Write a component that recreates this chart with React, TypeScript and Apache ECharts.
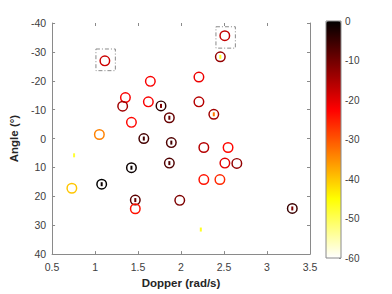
import React, { useEffect, useRef } from 'react';
import * as echarts from 'echarts';

// Hollow circles: Doppler (rad/s), Angle (°), power (dB)
const circleDoppler = [1.114, 1.353, 1.321, 1.423, 1.05, 2.509, 2.457, 2.208, 1.643, 1.62, 1.767, 2.208, 1.864, 2.381, 1.567, 1.887, 2.265, 2.547, 1.864, 2.51, 2.649, 2.265, 2.452, 1.985, 3.294, 0.73, 1.077, 1.423, 1.468, 1.468];
const circleAngle = [-26.9, -14.2, -11.2, -5.6, -1.4, -35.6, -28.3, -21.3, -19.8, -12.7, -11.3, -12.7, -7.2, -8.4, 0.0, 1.4, 3.1, 3.1, 8.5, 8.5, 8.6, 14.2, 14.2, 21.4, 24.2, 17.2, 15.8, 10.1, 21.3, 24.3];
const circlePower = [-18, -22, -14, -23, -34, -17, -13, -21, -22, -22, -4, -16, -9, -14, -6, -7, -16, -23, -7, -20, -13, -24, -26, -11, -5, -40, 0, -1, -8, -24];

// Small filled markers
const markerDoppler = [2.457, 1.767, 1.864, 2.381, 1.567, 1.887, 1.864, 3.294, 1.077, 1.423, 1.468, 0.756, 2.23];
const markerAngle = [-28.3, -11.3, -7.2, -8.4, 0.0, 1.4, 8.5, 24.2, 15.8, 10.1, 21.3, 5.8, 31.5];
const markerPower = [-47, -11, -9, -33, -6, -6, -7, -11, -1, -1, -9, -48, -47];

// Dash-dot highlight boxes [x0, y0, x1, y1]
const boxes = [
  [1.01, -31.0, 1.236, -23.5],
  [2.406, -38.7, 2.632, -31.3],
];

const xRange = [0.5, 3.5];
const yRange = [-40, 40];
const powerRange = [-60, 0];
const hotColors = ['#ffffff', '#ffff80', '#ffff00', '#ffaa00', '#ff5500', '#ff0000', '#aa0000', '#550000', '#000000'];

const FONT = 'Liberation Sans, Arial, Helvetica, sans-serif';
const RING = 'path://M0,-6A6,6,0,1,1,0,6A6,6,0,1,1,0,-6ZM0,-4.4A4.4,4.4,0,1,0,0,4.4A4.4,4.4,0,1,0,0,-4.4Z';

export default function App() {
  const ref = useRef<HTMLDivElement>(null);
  useEffect(() => {
    if (!ref.current) return;
    const chart = echarts.init(ref.current, null, { renderer: 'svg' });
    const circles = circleDoppler.map((x, i) => [x, circleAngle[i], circlePower[i]]);
    const markers = markerDoppler.map((x, i) => [x, markerAngle[i], markerPower[i]]);
    const axisColor = '#8a8a8a';
    const labelColor = '#404040';
    chart.setOption({
      animation: false,
      backgroundColor: '#ffffff',
      textStyle: { fontFamily: FONT },
      grid: [
        { left: 45, top: 23, width: 265, height: 234 },
        { left: 326, top: 21, width: 15, height: 237, show: true, borderColor: '#8a8a8a', borderWidth: 1, backgroundColor: 'transparent', z: 10 },
      ],
      xAxis: [
        {
          gridIndex: 0, type: 'value', min: xRange[0], max: xRange[1], interval: 0.5,
          name: 'Dopper (rad/s)', nameLocation: 'middle', nameGap: 22,
          nameTextStyle: { fontWeight: 'bold', fontSize: 11.5, color: '#262626', fontFamily: FONT },
          axisLine: { show: true, onZero: false, lineStyle: { color: axisColor, width: 1 } },
          axisTick: { show: true, inside: true, length: 3, lineStyle: { color: axisColor } },
          axisLabel: { color: labelColor, fontSize: 10.5, margin: 7, fontFamily: FONT },
          splitLine: { show: false },
        },
        {
          gridIndex: 0, type: 'value', position: 'top', min: xRange[0], max: xRange[1], interval: 0.5,
          axisLine: { show: false, onZero: false },
          axisTick: { show: true, inside: true, length: 3, lineStyle: { color: axisColor } },
          axisLabel: { show: false },
          splitLine: { show: false },
        },
        { gridIndex: 1, type: 'value', show: false, min: 0, max: 1 },
      ],
      yAxis: [
        {
          gridIndex: 0, type: 'value', inverse: true, min: yRange[0], max: yRange[1], interval: 10,
          name: 'Angle (°)', nameLocation: 'middle', nameGap: 26, nameRotate: 90,
          nameTextStyle: { fontWeight: 'bold', fontSize: 11.5, color: '#262626', fontFamily: FONT },
          axisLine: { show: true, onZero: false, lineStyle: { color: axisColor, width: 1 } },
          axisTick: { show: true, inside: true, length: 3, lineStyle: { color: axisColor } },
          axisLabel: { color: labelColor, fontSize: 10.5, margin: 6, fontFamily: FONT },
          splitLine: { show: false },
        },
        {
          gridIndex: 0, type: 'value', position: 'right', inverse: true, min: yRange[0], max: yRange[1], interval: 10,
          axisLine: { show: true, onZero: false, lineStyle: { color: axisColor, width: 1 } },
          axisTick: { show: true, inside: true, length: 3, lineStyle: { color: axisColor } },
          axisLabel: { show: false },
          splitLine: { show: false },
        },
        {
          gridIndex: 1, type: 'value', position: 'right', min: powerRange[0], max: powerRange[1], interval: 10,
          axisLine: { show: false, onZero: false },
          axisTick: { show: true, inside: true, length: 2, lineStyle: { color: axisColor } },
          axisLabel: { color: labelColor, fontSize: 10, margin: 4, fontFamily: FONT },
          splitLine: { show: false },
        },
      ],
      visualMap: {
        type: 'continuous', min: powerRange[0], max: powerRange[1], dimension: 2, seriesIndex: [0, 1],
        inRange: { color: hotColors },
        calculable: false, hoverLink: false,
        orient: 'vertical', left: 326, top: 21, itemWidth: 15, itemHeight: 237, padding: 0,
        showLabel: false,
        textStyle: { fontSize: 0 },
        z: 4,
      },
      series: [
        {
          type: 'scatter', xAxisIndex: 0, yAxisIndex: 0, data: circles,
          symbol: RING, symbolSize: 11,
          itemStyle: { opacity: 1 },
        },
        {
          type: 'scatter', xAxisIndex: 0, yAxisIndex: 0, data: markers,
          symbol: 'rect', symbolSize: [2, 4],
          itemStyle: { opacity: 1 },
        },
        {
          type: 'scatter', xAxisIndex: 0, yAxisIndex: 0, data: [],
          markArea: {
            silent: true,
            itemStyle: { color: 'transparent', borderColor: '#8a8a8a', borderWidth: 1, borderType: [4, 2, 1, 2] },
            data: boxes.map((b) => [{ coord: [b[0], b[1]] }, { coord: [b[2], b[3]] }]),
          },
        },
      ],
    });
    return () => chart.dispose();
  }, []);
  return <div ref={ref} style={{ position: 'fixed', left: 0, top: 0, width: 392, height: 294 }} />;
}
